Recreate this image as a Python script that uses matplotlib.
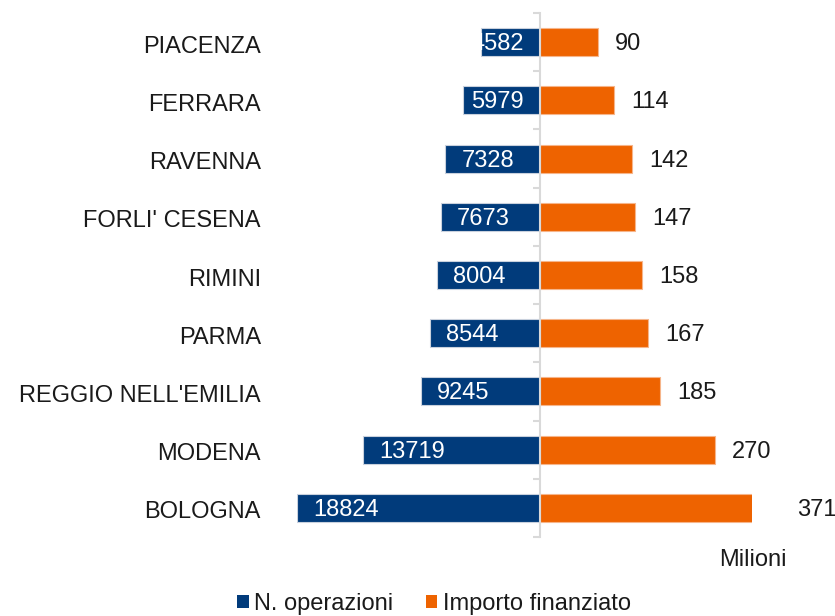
import matplotlib
matplotlib.use("Agg")
import matplotlib.pyplot as plt
import matplotlib.transforms as mtransforms
from matplotlib.patches import Patch
import numpy as np

plt.rcParams['font.family'] = ['Liberation Sans', 'DejaVu Sans']

# data (top to bottom)
provinces = ["PIACENZA", "FERRARA", "RAVENNA", "FORLI' CESENA", "RIMINI",
             "PARMA", "REGGIO NELL'EMILIA", "MODENA", "BOLOGNA"]
n_operazioni = [4582, 5979, 7328, 7673, 8004, 8544, 9245, 13719, 18824]
importo = [90, 114, 142, 147, 158, 167, 185, 270, 371]

BLUE = "#013b7b"
ORANGE = "#ee6300"
GRID = "#d9d9d9"
FS = 17
DY = -2  # nudge text down a bit (pixels)

W, H = 835, 616
fig = plt.figure(figsize=(W / 100, H / 100), dpi=100)

x_left, x_mid, x_right = 297, 540, 752
y_top, y_bot = 13, 537
b = 1 - y_bot / H
h = (y_bot - y_top) / H
ax_l = fig.add_axes([x_left / W, b, (x_mid - x_left) / W, h])
ax_r = fig.add_axes([x_mid / W, b, (x_right - x_mid) / W, h])

y = np.arange(len(provinces))
bh = 0.48

bars_l = ax_l.barh(y, n_operazioni, height=bh, color=BLUE,
                   edgecolor="#c9d1dd", linewidth=0.8)
bars_r = ax_r.barh(y, importo, height=bh, color=ORANGE,
                   edgecolor="#f6b58a", linewidth=0.8)

ax_l.set_xlim(max(n_operazioni), 0)
ax_r.set_xlim(0, 327)
for ax in (ax_l, ax_r):
    ax.set_ylim(len(provinces) - 0.5, -0.5)
    ax.set_xticks([])
    for s in ax.spines.values():
        s.set_visible(False)

# category labels
ax_l.set_yticks(y)
ax_l.set_yticklabels(provinces, fontsize=FS, color="#1a1a1a")
ax_l.tick_params(axis="y", length=0, pad=26)
shift = mtransforms.ScaledTranslation(0, DY / 100, fig.dpi_scale_trans)
for lab in ax_l.get_yticklabels():
    lab.set_transform(lab.get_transform() + shift)

# central axis line with boundary ticks
ax_r.spines["left"].set_visible(True)
ax_r.spines["left"].set_color(GRID)
ax_r.spines["left"].set_linewidth(1.5)
ax_r.set_yticks(np.arange(-0.5, len(provinces), 1))
ax_r.tick_params(axis="y", direction="out", length=5, width=1.5,
                 color=GRID, labelleft=False)

# left labels inside bars
labels_l = []
for i, (v, bar) in enumerate(zip(n_operazioni, bars_l)):
    t = ax_l.annotate(str(v), xy=(v, i), xytext=(16, DY),
                      textcoords="offset pixels", ha="left", va="center",
                      color="white", fontsize=FS)
    t.set_clip_path(bar)
    labels_l.append(t)

fig.canvas.draw()
rend = fig.canvas.get_renderer()
mid_px = ax_l.transData.transform((0, 0))[0]
for i, t in enumerate(labels_l):
    bb = t.get_window_extent(rend)
    if bb.x1 > mid_px - 16:
        t.xy = (0, i)
        t.set_position((-16, DY))
        t.set_ha("right")

# right labels
for i, v in enumerate(importo):
    ax_r.annotate(str(v), xy=(v, i), xytext=(17, DY),
                  textcoords="offset pixels", ha="left", va="center",
                  color="#1a1a1a", fontsize=FS, annotation_clip=False)

fig.text(753 / W, 1 - 560 / H, "Milioni", ha="center", va="center",
         fontsize=FS, color="#1a1a1a")

handles = [Patch(facecolor=BLUE, label="N. operazioni"),
           Patch(facecolor=ORANGE, label="Importo finanziato")]
fig.legend(handles=handles, loc="center", bbox_to_anchor=(434 / W, 1 - 604 / H),
           ncol=2, frameon=False, fontsize=FS, handlelength=0.5,
           handleheight=0.5, handletextpad=0.25, columnspacing=1.35,
           borderpad=0, labelcolor="#1a1a1a")

fig.savefig("out.png", dpi=100)
